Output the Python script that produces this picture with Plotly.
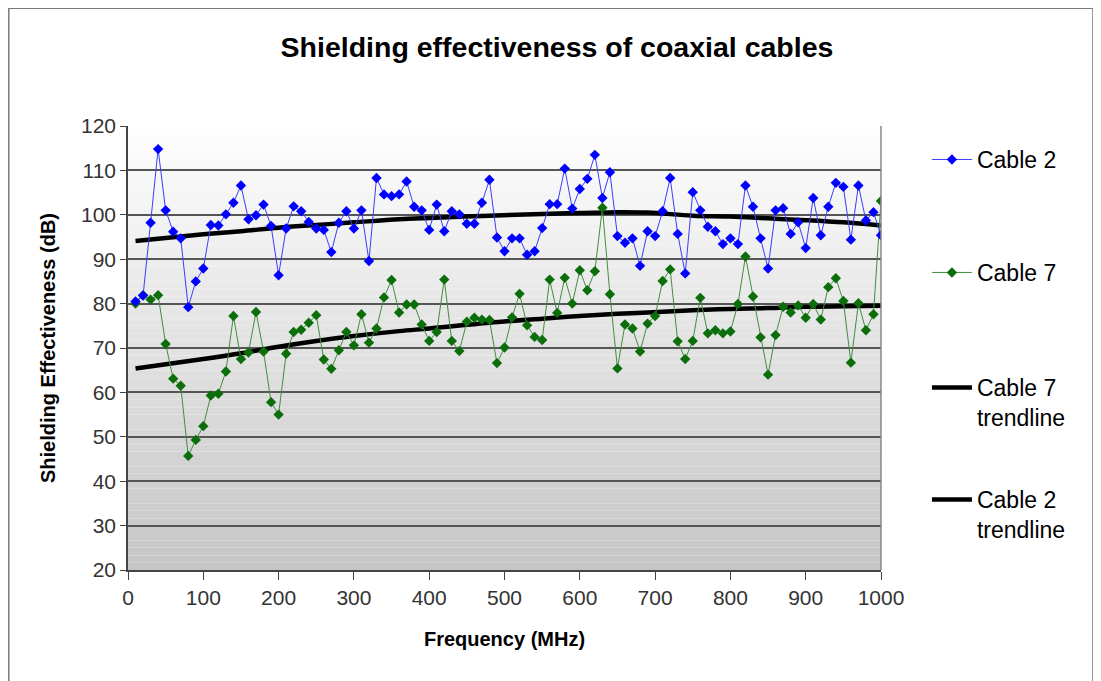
import plotly.graph_objects as go

freq = list(range(10, 1001, 10))

cable2 = [80.5, 81.8, 98.2, 114.8, 101.0, 96.2, 94.7, 79.2, 85.0, 87.9,
          97.7, 97.6, 100.1, 102.7, 106.6, 99.0, 99.9, 102.3, 97.5, 86.4,
          96.9, 101.9, 100.8, 98.4, 96.9, 96.6, 91.6, 98.2, 100.8, 96.9,
          101.0, 89.6, 108.3, 104.6, 104.2, 104.6, 107.5, 101.8, 101.0, 96.6,
          102.3, 96.3, 100.8, 100.1, 98.0, 98.0, 102.7, 107.9, 94.9, 91.8,
          94.7, 94.7, 91.0, 91.8, 97.0, 102.4, 102.4, 110.4, 101.4, 105.8,
          108.1, 113.5, 103.8, 109.6, 95.2, 93.7, 94.7, 88.5, 96.3, 95.2,
          100.8, 108.3, 95.7, 86.8, 105.1, 101.0, 97.3, 96.3, 93.4, 94.7,
          93.4, 106.6, 101.8, 94.7, 87.9, 101.0, 101.5, 95.7, 98.3, 92.5,
          103.8, 95.4, 101.8, 107.2, 106.3, 94.4, 106.6, 98.7, 100.6, 95.4]

cable7 = [80.0, 81.9, 80.9, 81.9, 70.9, 63.1, 61.5, 45.7, 49.3, 52.4,
          59.3, 59.7, 64.7, 77.2, 67.5, 69.0, 78.1, 69.2, 57.8, 55.0,
          68.7, 73.6, 74.1, 75.7, 77.4, 67.4, 65.3, 69.5, 73.6, 70.6,
          77.6, 71.2, 74.4, 81.4, 85.3, 78.0, 79.8, 79.8, 75.3, 71.6,
          73.6, 85.4, 71.6, 69.3, 75.9, 76.8, 76.4, 76.3, 66.6, 70.1,
          76.9, 82.2, 75.1, 72.5, 71.8, 85.4, 77.9, 85.8, 80.0, 87.5,
          83.0, 87.3, 101.6, 82.1, 65.4, 75.3, 74.4, 69.2, 75.5, 77.2,
          85.1, 87.7, 71.5, 67.5, 71.6, 81.3, 73.3, 74.0, 73.3, 73.7,
          79.9, 90.6, 81.6, 72.4, 64.0, 72.9, 79.3, 78.0, 79.6, 76.8,
          79.9, 76.4, 83.7, 85.7, 80.6, 66.7, 80.1, 74.0, 77.6, 103.1]

trend_freq = [10, 100, 150, 200, 250, 300, 360, 400, 480, 550, 600, 650, 690, 750, 800, 850, 900, 950, 1000]
trend2 = [94.1, 95.6, 96.3, 97.1, 97.7, 98.3, 99.0, 99.3, 99.8, 100.2, 100.4, 100.6, 100.5, 99.8, 99.6, 99.2, 98.8, 98.3, 97.6]
trend7 = [65.4, 67.5, 68.8, 70.3, 71.6, 72.7, 73.8, 74.4, 75.7, 76.6, 77.2, 77.7, 78.0, 78.5, 78.8, 79.0, 79.3, 79.4, 79.5]

FONT = "Liberation Sans, Arial, sans-serif"

# page has an 8px body margin, so the figure is drawn 8px smaller and shifted
W, H = 1093, 673
L, T = 120, 118
PW, PH = 753, 444
R = W - L - PW
B = H - T - PH

fig = go.Figure()

fig.add_trace(go.Scatter(x=trend_freq, y=trend7, mode="lines", name="Cable 7<br>trendline",
                         line=dict(color="black", width=4.5, shape="spline"), legend="legend3"))
fig.add_trace(go.Scatter(x=trend_freq, y=trend2, mode="lines", name="Cable 2<br>trendline",
                         line=dict(color="black", width=4.5, shape="spline"), legend="legend4"))
fig.add_trace(go.Scatter(x=freq, y=cable7, mode="lines+markers", name="Cable 7",
                         line=dict(color="#3f8f3f", width=1),
                         marker=dict(symbol="diamond", size=8, color="#0b6e0b"),
                         legend="legend2"))
fig.add_trace(go.Scatter(x=freq, y=cable2, mode="lines+markers", name="Cable 2",
                         line=dict(color="#3c3cff", width=1),
                         marker=dict(symbol="diamond", size=8, color="#0000ff"),
                         legend="legend"))

# gradient plot background
shapes = []
n = 60
for i in range(n):
    t = i / (n - 1)
    c = int(round(254 - t * (254 - 198)))
    y1 = 120 - i * 100 / n
    y0 = 120 - (i + 1) * 100 / n
    shapes.append(dict(type="rect", xref="x", yref="y", x0=0, x1=1000, y0=y0, y1=y1,
                       fillcolor=f"rgb({c},{c},{c})", line=dict(width=0), layer="below"))
# outer chart frame
shapes.append(dict(type="rect", xref="paper", yref="paper",
                   x0=(0.8 - L) / PW, x1=(1085 - L) / PW,
                   y0=-0.5, y1=1 + (T - 0.2) / PH,
                   line=dict(color="#7a7a7a", width=1.5), fillcolor="rgba(0,0,0,0)", layer="below"))
# right border of plot area
shapes.append(dict(type="line", xref="paper", yref="paper", x0=1, x1=1, y0=0, y1=1,
                   line=dict(color="#888", width=1.5)))


def leg(page_y):
    top = page_y - 8 - 22
    return dict(x=1.061, y=1 - (top - T) / PH, xanchor="left", yanchor="top",
                font=dict(family=FONT, size=23, color="black"),
                bgcolor="rgba(0,0,0,0)", valign="top", itemwidth=40)


fig.update_layout(
    width=W, height=H,
    margin=dict(l=L, r=R, t=T, b=B),
    paper_bgcolor="white",
    plot_bgcolor="rgba(0,0,0,0)",
    shapes=shapes,
    title=dict(text="<b>Shielding effectiveness of coaxial cables</b>",
               font=dict(family=FONT, size=28.5, color="black"),
               x=(557 - 8) / W, xanchor="center", y=1 - (47 - 8) / H, yanchor="middle"),
    font=dict(family=FONT, color="#222"),
    showlegend=True,
    legend=leg(160),
    legend2=leg(273),
    legend3=leg(388),
    legend4=leg(500),
)

fig.update_xaxes(range=[0, 1000], tickvals=list(range(0, 1001, 100)),
                 showgrid=False, zeroline=False,
                 showline=True, linecolor="#444", linewidth=1.5,
                 ticks="outside", ticklen=8, tickcolor="#444",
                 tickfont=dict(family=FONT, size=21, color="#333"),
                 title=dict(text="<b>Frequency (MHz)</b>", font=dict(family=FONT, size=20, color="black"),
                            standoff=24))
fig.update_yaxes(range=[20, 120], tickvals=list(range(20, 121, 10)),
                 showgrid=True, gridcolor="#555", gridwidth=1.5, zeroline=False,
                 showline=True, linecolor="#444", linewidth=1.5,
                 ticks="outside", ticklen=6, tickcolor="#444",
                 tickfont=dict(family=FONT, size=21, color="#333"),
                 title=dict(text="<b>Shielding Effectiveness (dB)</b>", font=dict(family=FONT, size=20, color="black"),
                            standoff=20))

fig.write_html("out.html")
